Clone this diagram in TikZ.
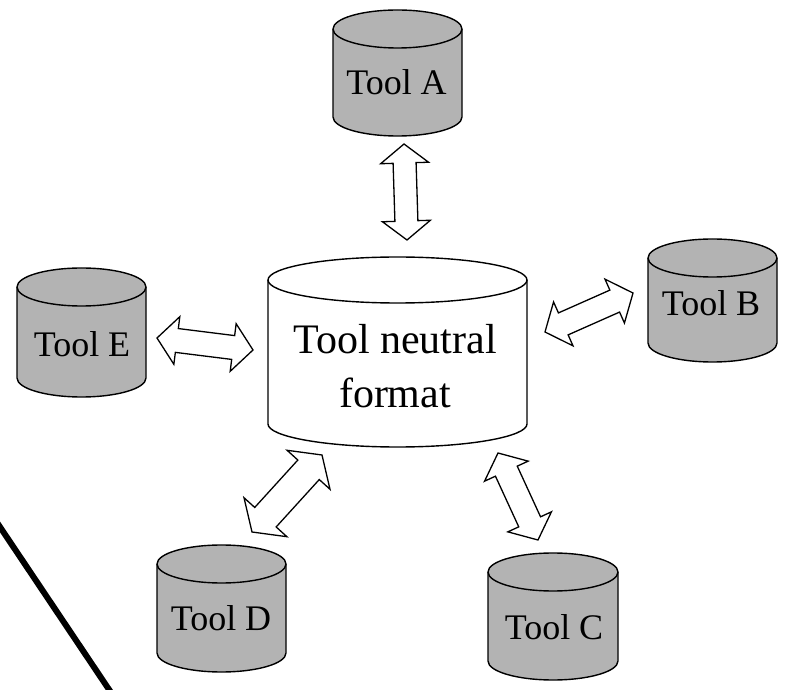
\documentclass[tikz,border=0pt]{standalone}
\usepackage{fontspec}
\setmainfont{Liberation Serif}
\usetikzlibrary{calc}
\definecolor{cylgray}{RGB}{179,179,179}
\tikzset{
  cylline/.style={line width=1.4pt, draw=black, line join=round},
  tooltext/.style={font=\fontsize{36}{43}\selectfont, inner sep=0pt, anchor=base},
  hollow/.style={line width=1.3pt, draw=black, fill=white, line join=miter},
  bigline/.style={line width=6pt, draw=black}
}
% #1 cx, #2 top-centre y, #3 bottom-centre y, #4 rx, #5 ry, #6 fill
\newcommand\drawcyl[6]{%
  \draw[cylline, fill=#6] ({#1-#4},{#2}) -- ({#1-#4},{#3})
     arc[start angle=180,end angle=360,x radius=#4pt,y radius=#5pt]
     -- ({#1+#4},{#2})
     arc[start angle=0,end angle=180,x radius=#4pt,y radius=#5pt] -- cycle;
  \draw[cylline] ({#1-#4},{#2}) arc[start angle=180,end angle=360,x radius=#4pt,y radius=#5pt];
}
% #1,#2 tip coordinates, #3 half head width, #4 half shaft width, #5 head length
\newcommand\hollowarrow[5]{%
  \path ($(#1)!#5!(#2)$) coordinate (ha) ($(#2)!#5!(#1)$) coordinate (hb);
  \draw[hollow] (#1) -- ($(ha)!#3!90:(#2)$) -- ($(ha)!#4!90:(#2)$)
     -- ($(hb)!#4!-90:(#1)$) -- ($(hb)!#3!-90:(#1)$) -- (#2)
     -- ($(hb)!#3!90:(#1)$) -- ($(hb)!#4!90:(#1)$)
     -- ($(ha)!#4!-90:(#2)$) -- ($(ha)!#3!-90:(#2)$) -- cycle;
}
\begin{document}
\begin{tikzpicture}[x=1pt,y=1pt]
\useasboundingbox (0,0) rectangle (788,689);
\fill[white] (0,0) rectangle (788,689);

% cylinders
\drawcyl{397.5}{660}{572}{64.5}{19}{cylgray}
\node[tooltext] (toolA) at (396.5,594) {Tool A};

\drawcyl{397.5}{409}{265}{129.5}{23}{white}
\node[font=\fontsize{42}{54}\selectfont, align=center, inner sep=0pt] (neutral) at (395,323) {Tool neutral\\format};

\drawcyl{81.5}{402}{311}{64.5}{19}{cylgray}
\node[tooltext] (toolE) at (82,332) {Tool E};

\drawcyl{712.5}{431}{346}{64.5}{19}{cylgray}
\node[tooltext] (toolB) at (711,373) {Tool B};

\drawcyl{221.5}{125}{36}{64.5}{19}{cylgray}
\node[tooltext] (toolD) at (221,59) {Tool D};

\drawcyl{553}{117}{28}{65}{19}{cylgray}
\node[tooltext] (toolC) at (554,49) {Tool C};

% arrow tips
\coordinate (a1) at (404,545); \coordinate (a2) at (407,449);
\coordinate (e1) at (157,351); \coordinate (e2) at (253,339);
\coordinate (b1) at (545,357); \coordinate (b2) at (633,396);
\coordinate (d1) at (252,157); \coordinate (d2) at (322,234);
\coordinate (c1) at (498,236); \coordinate (c2) at (538,149);

\hollowarrow{a1}{a2}{24pt}{11.5pt}{19pt}
\hollowarrow{e1}{e2}{24pt}{12pt}{20pt}
\hollowarrow{b1}{b2}{24pt}{12pt}{20pt}
\hollowarrow{d1}{d2}{29pt}{14.5pt}{20pt}
\hollowarrow{c1}{c2}{24pt}{12pt}{20pt}

% thick line
\coordinate (l1) at (-4,168);
\coordinate (l2) at (112,-5);
\draw[bigline] (l1) -- (l2);
\end{tikzpicture}
\end{document}
